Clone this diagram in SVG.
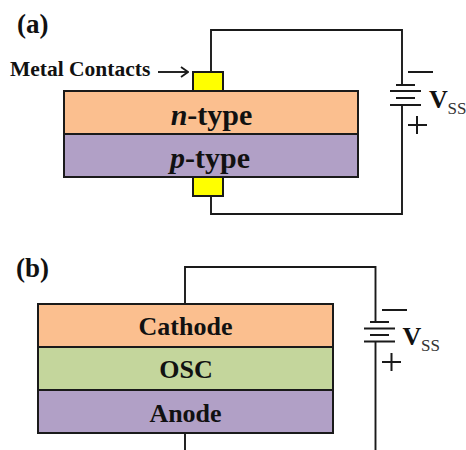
<svg xmlns="http://www.w3.org/2000/svg" width="466" height="450" viewBox="0 0 466 450">
<style>
text{font-family:"Liberation Serif","Times New Roman",serif;font-weight:bold;fill:#111}
.w{fill:none;stroke:#1a1a1a;stroke-width:1.9}
.t{fill:none;stroke:#1a1a1a;stroke-width:2}
.b{stroke:#1a1a1a;stroke-width:2}
.l{font-size:27px}
.c{font-size:26px;text-anchor:middle}
.n{font-size:30px;text-anchor:middle}
.m{font-size:21.500px}
.v{font-size:26px}
.s{font-size:17px;font-weight:normal;fill:#333}
.o{fill:#fbbf8f}.g{fill:#c4d69c}.p{fill:#b1a0c6}.y{fill:#ffff00}
</style>
<defs><marker id="a" markerWidth="9" markerHeight="12" refX="8" refY="6" orient="auto" markerUnits="userSpaceOnUse"><path d="M1 1L8 6L1 11" fill="none" stroke="#1a1a1a" stroke-width="1.8"/></marker></defs>
<g id="connectors">
<path class="w" d="M211 72V30H402V85M402 105V214H211V196"/>
<path class="w" d="M158 72H188" marker-end="url(#a)"/>
<path class="w" d="M185 304V267H375.500V322M375.500 341.500V450M185 433V450"/>
</g>
<g id="label-a"><text class="l" x="17" y="33">(a)</text></g>
<g id="label-contacts"><text class="m" x="10" y="76">Metal Contacts</text></g>
<g id="contact-top"><rect class="y b" x="193" y="72" width="30" height="19"/></g>
<g id="contact-bottom"><rect class="y b" x="193" y="177" width="30" height="19"/></g>
<g id="n-type"><rect class="o b" x="64" y="91" width="294" height="43"/><text class="n" x="211.500" y="125"><tspan font-style="italic">n</tspan>-type</text></g>
<g id="p-type"><rect class="p b" x="64" y="134" width="294" height="43"/><text class="n" x="210" y="168"><tspan font-style="italic">p</tspan>-type</text></g>
<g id="battery-a">
<path class="t" d="M396 85H415M390 91H421M396 98H415M390 105H421M408 72H433M408 125H427M417 116V134"/>
<text class="v" x="429" y="108">V</text><text class="s" x="447.500" y="114">SS</text>
</g>
<g id="label-b"><text class="l" x="16" y="277">(b)</text></g>
<g id="cathode"><rect class="o b" x="38" y="304" width="295" height="43"/><text class="c" x="185.500" y="335">Cathode</text></g>
<g id="osc"><rect class="g b" x="38" y="347" width="295" height="43"/><text class="c" x="186" y="378">OSC</text></g>
<g id="anode"><rect class="p b" x="38" y="390" width="295" height="43"/><text class="c" x="185.500" y="422">Anode</text></g>
<g id="battery-b">
<path class="t" d="M370 322H389M364 328.500H395M370 335H389M364 341.500H395M382 310H407M382 362H401M391.500 353V371"/>
<text class="v" x="402.500" y="345">V</text><text class="s" x="421" y="351">SS</text>
</g>
</svg>
